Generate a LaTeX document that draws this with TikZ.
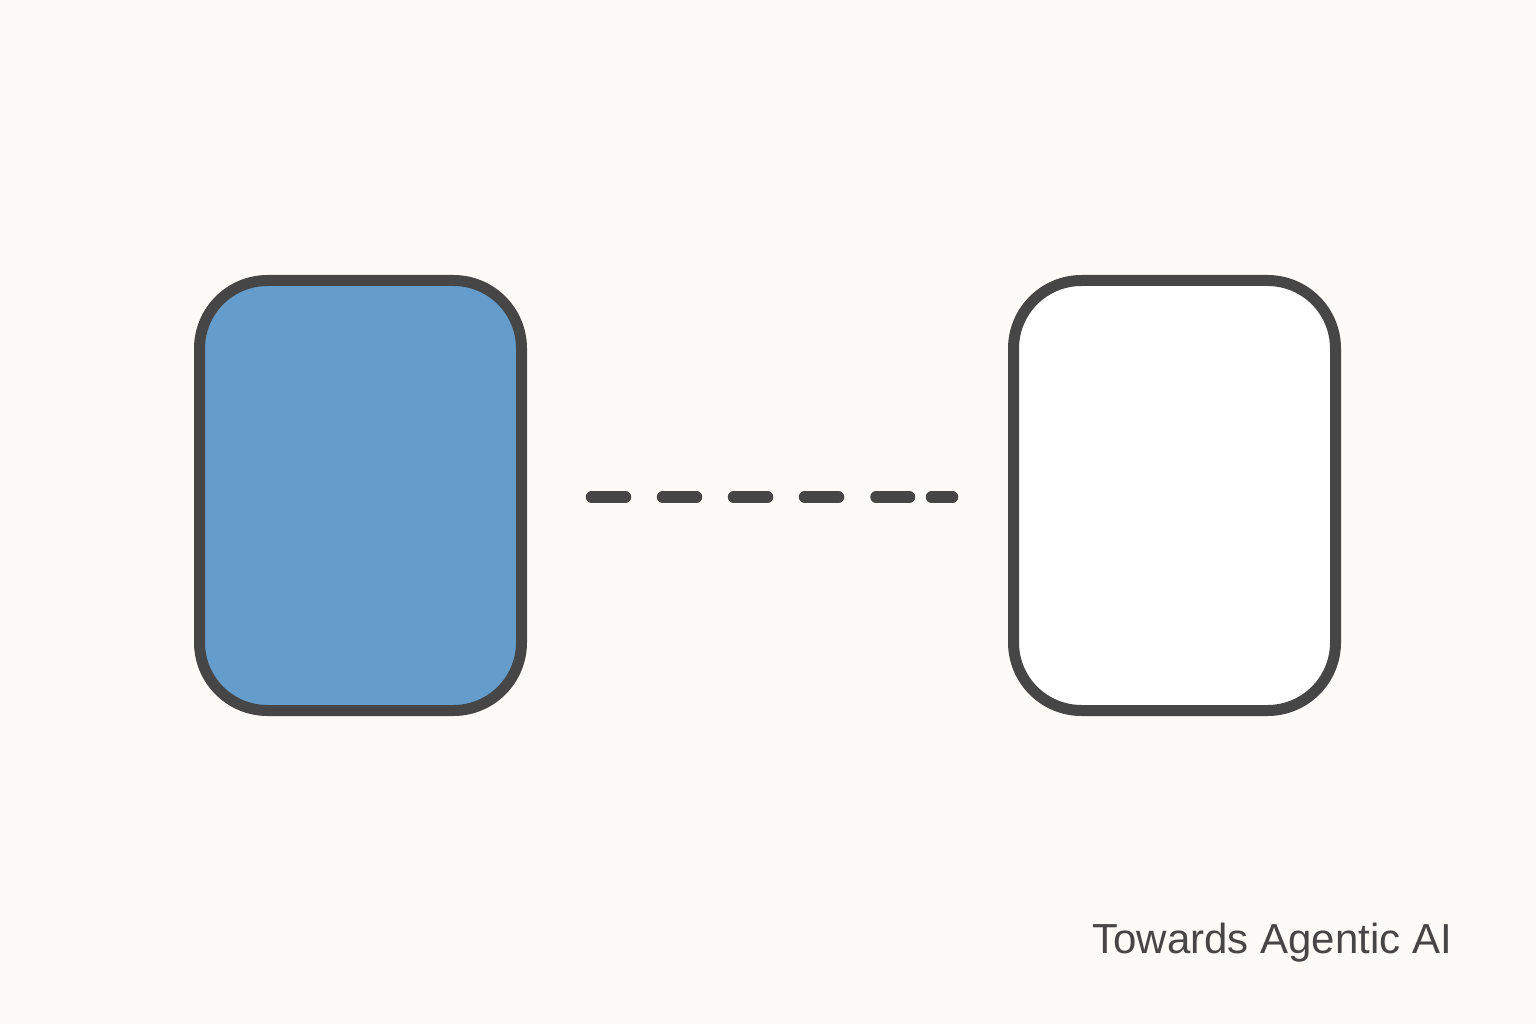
\documentclass[tikz,border=0pt]{standalone}
\usepackage{fontspec}
\setmainfont{Liberation Sans}
\definecolor{bgc}{HTML}{FDFBF7}
\definecolor{strokec}{HTML}{464646}
\definecolor{bluec}{HTML}{649DCB}
\begin{document}
\begin{tikzpicture}[x=1pt,y=-1pt,
  card/.style={draw=strokec,line width=11pt,rounded corners=68pt},
  dashseg/.style={draw=strokec,line width=11.5pt,line cap=round}]
\fill[bgc] (0,0) rectangle (1536,1024);
\useasboundingbox (0,0) rectangle (1536,1024);
\path[card,fill=bluec] (199.5,280.5) rectangle (521.5,710.5);
\node[inner sep=0pt,minimum width=322pt,minimum height=430pt] (left) at (360.5,495.5) {};
\path[card,fill=white] (1013.5,280.5) rectangle (1335.5,710.5);
\node[inner sep=0pt,minimum width=322pt,minimum height=430pt] (right) at (1174.5,495.5) {};
\coordinate (d0) at (591.5,497);
\coordinate (d1) at (625.5,497);
\coordinate (d2) at (662.5,497);
\coordinate (d3) at (696.5,497);
\coordinate (d4) at (733.5,497);
\coordinate (d5) at (767.5,497);
\coordinate (d6) at (804.5,497);
\coordinate (d7) at (838.5,497);
\coordinate (d8) at (876,497);
\coordinate (d9) at (909.5,497);
\coordinate (d10) at (931.5,497);
\coordinate (d11) at (952.5,497);
\draw[dashseg] (d0)--(d1) (d2)--(d3) (d4)--(d5) (d6)--(d7) (d8)--(d9) (d10)--(d11);
\node[anchor=base east,inner sep=0pt,text=strokec,font=\fontsize{42}{42}\selectfont] (caption) at (1452,953) {Towards Agentic AI};
\end{tikzpicture}
\end{document}
